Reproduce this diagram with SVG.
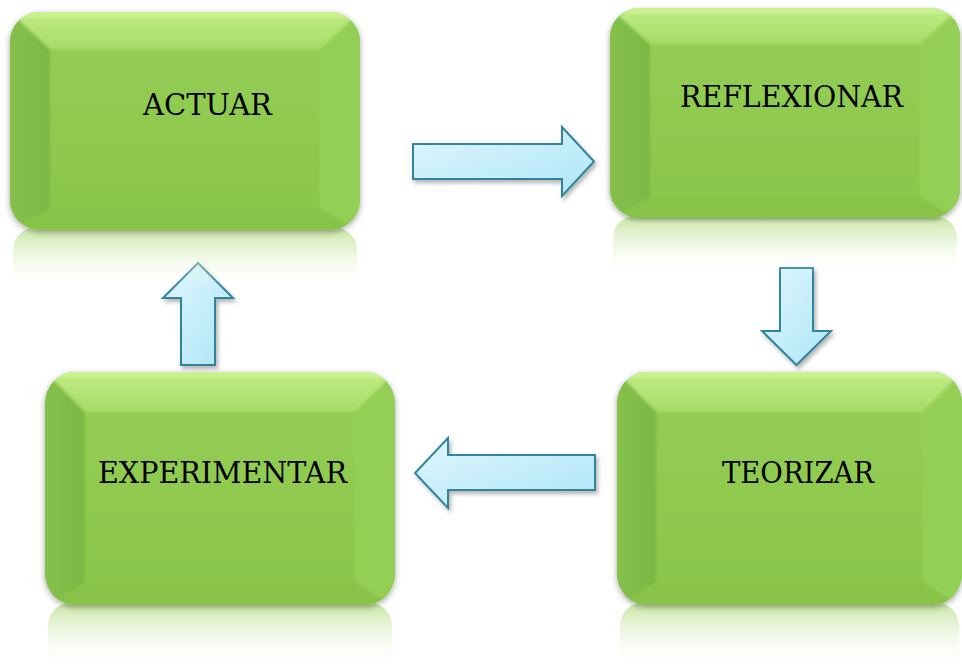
<svg xmlns="http://www.w3.org/2000/svg" width="962" height="671" viewBox="0 0 962 671">
<style>
.lbl{font-family:"DejaVu Serif","Liberation Serif",serif;font-size:29px;fill:#000;}
.arrow{fill:url(#ag);stroke:#31849b;stroke-width:2;stroke-linejoin:miter;filter:url(#ash);}
</style>
<defs>
<linearGradient id="topg" x1="0" y1="0" x2="0" y2="1"><stop offset="0" stop-color="#c4ef8a"/><stop offset="1" stop-color="#a6da66"/></linearGradient>
<linearGradient id="leftg" x1="0" y1="0" x2="1" y2="0"><stop offset="0" stop-color="#86c24c"/><stop offset="1" stop-color="#7bb743"/></linearGradient>
<linearGradient id="faceg" x1="0" y1="0" x2="0" y2="1"><stop offset="0" stop-color="#93cd53"/><stop offset="1" stop-color="#8bc64c"/></linearGradient>
<linearGradient id="refl" x1="0" y1="0" x2="0" y2="1"><stop offset="0" stop-color="#bfe194" stop-opacity="0.85"/><stop offset="0.45" stop-color="#e0f0cb" stop-opacity="0.55"/><stop offset="1" stop-color="#ffffff" stop-opacity="0"/></linearGradient>
<linearGradient id="ag" x1="0" y1="0" x2="1" y2="1"><stop offset="0" stop-color="#dff6fd"/><stop offset="1" stop-color="#aee5f8"/></linearGradient>
<clipPath id="bclip"><rect x="0" y="0" width="350" height="220" rx="30"/></clipPath>
<filter id="bsh" x="-10%" y="-10%" width="120%" height="125%"><feGaussianBlur in="SourceAlpha" stdDeviation="3"/><feOffset dy="2"/><feComponentTransfer><feFuncA type="linear" slope="0.35"/></feComponentTransfer><feMerge><feMergeNode/><feMergeNode in="SourceGraphic"/></feMerge></filter>
<filter id="soft" x="-5%" y="-5%" width="110%" height="110%"><feGaussianBlur stdDeviation="1.5"/></filter>
<filter id="ash" x="-20%" y="-20%" width="140%" height="140%"><feGaussianBlur in="SourceAlpha" stdDeviation="2"/><feOffset dx="2" dy="3"/><feComponentTransfer><feFuncA type="linear" slope="0.3"/></feComponentTransfer><feMerge><feMergeNode/><feMergeNode in="SourceGraphic"/></feMerge></filter>
<g id="box">
<rect x="3" y="218" width="344" height="62" rx="22" fill="url(#refl)"/>
<g filter="url(#bsh)">
<g clip-path="url(#bclip)">
<rect x="0" y="0" width="350" height="220" fill="#8fca4f"/>
<g filter="url(#soft)">
<polygon points="-5,-5 355,-5 310,38 40,38" fill="url(#topg)"/>
<polygon points="-5,-5 40,38 40,198 -5,225" fill="url(#leftg)"/>
<polygon points="355,-5 310,38 310,198 355,225" fill="#94cf55"/>
<polygon points="-5,225 40,198 310,198 355,225" fill="#88c34a"/>
<rect x="40" y="38" width="270" height="160" fill="url(#faceg)"/>
</g>
<rect x="0" y="0" width="350" height="6" fill="#d2f59c" opacity="0.5"/>
</g>
</g>
</g>
</defs>
<g id="connectors">
<polygon class="arrow" points="413,144 562,144 562,127 594,161.5 562,196 562,179 413,179"/>
<polygon class="arrow" points="780,268 813,268 813,331 831,331 796.5,365 762,331 780,331"/>
<polygon class="arrow" points="595,455 448,455 448,438 415,473 448,508 448,490 595,490"/>
<polygon class="arrow" points="181,365 215,365 215,298 233,298 198,263 163,298 181,298"/>
</g>
<g id="node-actuar">
<use href="#box" transform="translate(10,12) scale(1,0.99)"/>
<text class="lbl" x="143" y="115" textLength="129" lengthAdjust="spacingAndGlyphs">ACTUAR</text>
</g>
<g id="node-reflexionar">
<use href="#box" transform="translate(610,8) scale(1,0.955)"/>
<text class="lbl" x="680" y="107" textLength="223" lengthAdjust="spacingAndGlyphs">REFLEXIONAR</text>
</g>
<g id="node-teorizar">
<use href="#box" transform="translate(617,372) scale(0.986,1.059)"/>
<text class="lbl" x="722" y="483" textLength="152" lengthAdjust="spacingAndGlyphs">TEORIZAR</text>
</g>
<g id="node-experimentar">
<use href="#box" transform="translate(45,372) scale(1,1.059)"/>
<text class="lbl" x="98" y="483" textLength="249" lengthAdjust="spacingAndGlyphs">EXPERIMENTAR</text>
</g>
</svg>
